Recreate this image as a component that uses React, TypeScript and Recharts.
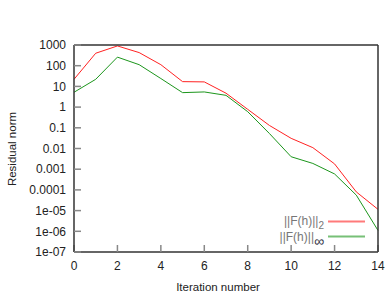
import { LineChart, Line, XAxis, YAxis } from 'recharts'

const iterations = [0, 1, 2, 3, 4, 5, 6, 7, 8, 9, 10, 11, 12, 13, 14]
const normTwo = [22, 400, 900, 430, 112, 17, 16.5, 4.7, 0.78, 0.13, 0.031, 0.011, 0.0018, 0.00008, 0.0000115]
const normInf = [5.2, 22, 260, 112, 24, 5.0, 5.4, 3.7, 0.6, 0.053, 0.004, 0.0019, 0.00059, 0.000056, 0.0000011]

const xTicks = [0, 2, 4, 6, 8, 10, 12, 14]
const yTicks = [1e-7, 1e-6, 1e-5, 1e-4, 1e-3, 1e-2, 1e-1, 1, 10, 100, 1000]
const yTickLabels = ['1e-07', '1e-06', '1e-05', '0.0001', '0.001', '0.01', '0.1', '1', '10', '100', '1000']

const seriesKeys = ['two', 'inf']
const seriesSubs = ['2', '∞']
const seriesColors = ['#f22', '#1c961c']

const xTitle = 'Iteration number'
const yTitle = 'Residual norm'

const data = iterations.map((it, i) => ({ it, two: normTwo[i], inf: normInf[i] }))

const FONT = '"Liberation Sans", Arial, sans-serif'
const frame = { stroke: '#333', strokeWidth: 1.5 }
const tickLn = { stroke: '#888', strokeWidth: 1.5 }
const tickTxt = { fontFamily: FONT, fontSize: 12, fill: '#222' }

function KeyBox() {
  return (
    <div style={{ position: 'absolute', left: 270, top: 214, fontFamily: FONT, fontSize: 12, color: '#777' }}>
      {seriesKeys.map((k, i) => (
        <div key={k} style={{ display: 'flex', alignItems: 'center', height: 15, whiteSpace: 'nowrap' }}>
          <span style={{ width: 54, textAlign: 'right', lineHeight: '15px' }}>
            ||F(h)||<span style={{ fontSize: i === 1 ? 14 : 10, position: 'relative', top: i === 1 ? 5 : 4, color: i === 1 ? '#334' : '#777' }}>{seriesSubs[i]}</span>
          </span>
          <svg width={44} height={15} style={{ marginLeft: 4, display: 'block' }}>
            <line x1={0} x2={37} y1={7.5} y2={7.5} stroke={seriesColors[i]} strokeWidth={2} strokeOpacity={0.6} />
          </svg>
        </div>
      ))}
    </div>
  )
}

export default function App() {
  return (
    <div style={{ position: 'absolute', left: 0, top: 0, width: 389, height: 295 }}>
      <LineChart width={389} height={295} data={data} margin={{ top: 44, right: 10, bottom: 0, left: 0 }}>
        <XAxis dataKey="it" type="number" domain={[0, 14]} ticks={xTicks} height={43} interval={0}
               axisLine={frame} tickLine={tickLn} tickSize={-7} tickMargin={16.5} tick={tickTxt} />
        <XAxis xAxisId="top" orientation="top" dataKey="it" type="number" domain={[0, 14]} ticks={xTicks} height={1} interval={0}
               axisLine={frame} tickLine={tickLn} tickSize={-7} tick={false} />
        <YAxis scale="log" type="number" domain={[1e-7, 1000]} ticks={yTicks} allowDataOverflow width={74} interval={0}
               tickFormatter={(v: number) => yTickLabels[yTicks.indexOf(v)] ?? String(v)}
               axisLine={frame} tickLine={tickLn} tickSize={-7} tickMargin={15} tick={tickTxt} />
        <YAxis yAxisId="right" orientation="right" scale="log" type="number" domain={[1e-7, 1000]} ticks={yTicks} allowDataOverflow width={1} interval={0}
               axisLine={frame} tickLine={tickLn} tickSize={-7} tick={false} />
        <Line dataKey="two" stroke={seriesColors[0]} strokeWidth={1} dot={false} isAnimationActive={false} />
        <Line dataKey="inf" stroke={seriesColors[1]} strokeWidth={1} dot={false} isAnimationActive={false} />
      </LineChart>
      <svg width={389} height={295} style={{ position: 'absolute', left: 0, top: 0, pointerEvents: 'none' }}>
        <text x={218} y={291} textAnchor="middle" fontFamily={FONT} fontSize={11.5} fill="#222">{xTitle}</text>
        <text x={16} y={149} transform="rotate(-90 16 149)" textAnchor="middle" fontFamily={FONT} fontSize={11.5} fill="#222">{yTitle}</text>
      </svg>
      <KeyBox />
    </div>
  )
}
